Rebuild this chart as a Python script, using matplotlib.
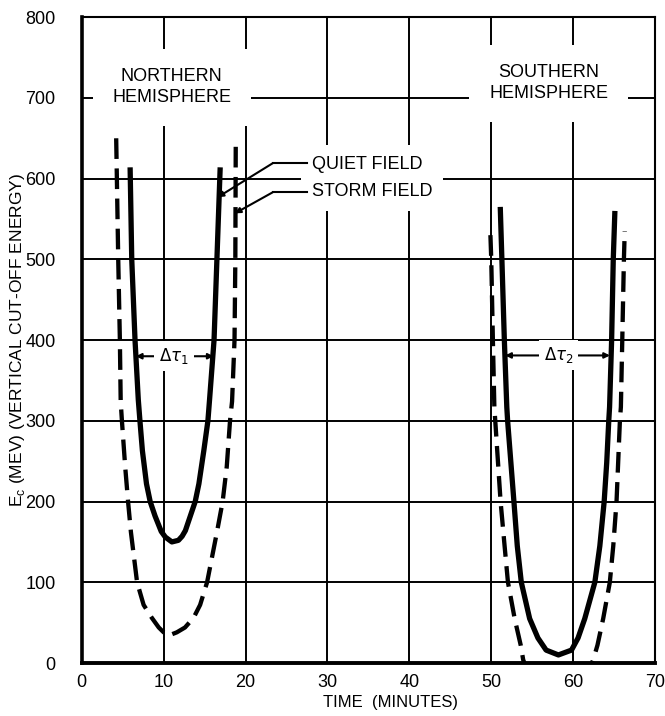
import matplotlib
matplotlib.use('Agg')
import matplotlib.pyplot as plt

FONT = ['Liberation Sans Narrow', 'Liberation Sans', 'DejaVu Sans']
plt.rcParams['font.family'] = FONT

# Quiet field, northern and southern passes (solid)
quiet_n_x = [5.9, 6.1, 6.5, 6.9, 7.1, 7.4, 7.9, 8.35, 8.95, 9.7, 10.2, 11.0, 11.8,
             12.25, 12.65, 13.25, 13.85, 14.3, 14.9, 15.4, 15.6, 16.15, 16.5, 16.9]
quiet_n_y = [614, 500, 400, 326, 300, 263, 222, 200, 182, 163, 156, 150, 152,
             157, 164, 182, 200, 222, 263, 300, 326, 400, 500, 614]
quiet_s_x = [51.1, 51.3, 51.6, 51.9, 52.0, 52.4, 52.77, 53.18, 53.67, 54.69, 55.7,
             56.7, 58.2, 59.8, 60.6, 61.42, 62.65, 63.26, 63.79, 64.1, 64.35, 64.45,
             64.7, 64.9, 65.1]
quiet_s_y = [565, 500, 400, 317, 300, 248, 200, 145, 100, 55, 31,
             16, 10, 16, 31, 55, 100, 145, 200, 248, 300, 317,
             400, 500, 560]

# Storm field (dashed)
storm_n_x = [4.2, 4.45, 4.65, 4.75, 4.9, 5.3, 5.65, 6.0, 6.75, 7.55, 8.55, 9.4, 10.0,
             10.6, 11.6, 12.6, 13.65, 14.45, 15.3, 16.5, 17.2, 17.7, 18.1, 18.35,
             18.65, 18.75, 18.8]
storm_n_y = [650, 500, 400, 324, 300, 243, 200, 162, 100, 72, 56, 44, 38,
             34, 38, 44, 56, 72, 100, 162, 200, 243, 300, 324,
             400, 500, 643]
storm_s_x = [49.9, 50.0, 50.2, 50.38, 50.49, 51.14, 51.63, 52.04, 52.86, 53.6, 53.9,
             55.0, 58.2, 61.3, 62.45, 62.97, 63.67, 64.48, 64.9, 65.3, 65.71, 65.83,
             66.0, 66.2, 66.3]
storm_s_y = [530, 500, 400, 317, 300, 200, 145, 100, 55, 22, 4,
             -25, -40, -25, 4, 22, 55, 100, 145, 200, 300, 317,
             400, 500, 535]

x_ticks = [0, 10, 20, 30, 40, 50, 60, 70]
y_ticks = [0, 100, 200, 300, 400, 500, 600, 700, 800]

# label anchors (data units)
north_label = (11.0, 713)
south_label = (57.0, 718)
legend_text_x = 28.1
quiet_text_y = 619
storm_text_y = 583
leader_elbow_x = 23.3
quiet_tip = (16.6, 577)
storm_tip = (18.7, 557)
dtau1 = (6.6, 16.1, 380, 11.3)   # left, right, level, text x
dtau2 = (51.7, 64.5, 381, 58.2)

fig = plt.figure(figsize=(6.65, 7.16), dpi=100)
ax = fig.add_axes([0.123, 0.074, 0.862, 0.902])

ax.plot(quiet_n_x, quiet_n_y, color='black', lw=3.8, solid_capstyle='butt', zorder=2)
ax.plot(quiet_s_x, quiet_s_y, color='black', lw=3.8, solid_capstyle='butt', zorder=2)
ax.plot(storm_n_x, storm_n_y, color='black', lw=3.1, dashes=(4.8, 2.2), zorder=2)
ax.plot(storm_s_x, storm_s_y, color='black', lw=3.1, dashes=(4.8, 2.2), zorder=2)

ax.set_xlim(0, 70)
ax.set_ylim(0, 800)
ax.set_xticks(x_ticks)
ax.set_yticks(y_ticks)
ax.set_axisbelow(True)
ax.grid(True, color='black', lw=1.4)
ax.tick_params(length=0, labelsize=13)
ax.tick_params(axis='y', pad=19)
ax.tick_params(axis='x', pad=8)

ax.spines['left'].set_linewidth(2.6)
ax.spines['bottom'].set_linewidth(2.8)
ax.spines['top'].set_linewidth(1.5)
ax.spines['right'].set_linewidth(1.5)

ax.set_ylabel('E$_\\mathregular{c}$ (MEV) (VERTICAL CUT-OFF ENERGY)', fontsize=12.5)
ax.yaxis.set_label_coords(-0.096, 0.5)
ax.set_xlabel('TIME  (MINUTES)', fontsize=12)
ax.xaxis.set_label_coords(0.539, -0.05)

box = dict(facecolor='white', edgecolor='none', boxstyle='square,pad=1.1')
ax.text(*north_label, 'NORTHERN\nHEMISPHERE', ha='center', va='center',
        fontsize=13, linespacing=1.3, bbox=box, zorder=3)
ax.text(*south_label, 'SOUTHERN\nHEMISPHERE', ha='center', va='center',
        fontsize=13, linespacing=1.3, bbox=box, zorder=3)

ax.text(legend_text_x, (quiet_text_y + storm_text_y) / 2, 'QUIET FIELD\nSTORM FIELD',
        ha='left', va='center', fontsize=13, linespacing=1.75, zorder=3,
        bbox=dict(facecolor='white', edgecolor='none', boxstyle='square,pad=0.6'))

# leader lines to the curves
arrow = dict(arrowstyle='-|>', color='black', lw=1.5, mutation_scale=8, shrinkA=0, shrinkB=0)
for ty, tip in [(quiet_text_y, quiet_tip), (storm_text_y, storm_tip)]:
    ax.plot([leader_elbow_x, legend_text_x - 0.6], [ty, ty], color='black', lw=1.5, zorder=4)
    ax.annotate('', xy=tip, xytext=(leader_elbow_x, ty), arrowprops=arrow, zorder=4)

# delta tau markers
for (x0, x1, yv, tx), lab in [(dtau1, r'$\Delta\tau_1$'), (dtau2, r'$\Delta\tau_2$')]:
    ax.annotate('', xy=(x0, yv), xytext=(x1, yv),
                arrowprops=dict(arrowstyle='<|-|>', color='black', lw=1.5,
                                mutation_scale=8, shrinkA=0, shrinkB=0), zorder=3)
    ax.text(tx, yv, lab, ha='center', va='center', fontsize=12, zorder=4,
            bbox=dict(facecolor='white', edgecolor='none', boxstyle='square,pad=0.3'))

fig.savefig('out.png', dpi=100)
